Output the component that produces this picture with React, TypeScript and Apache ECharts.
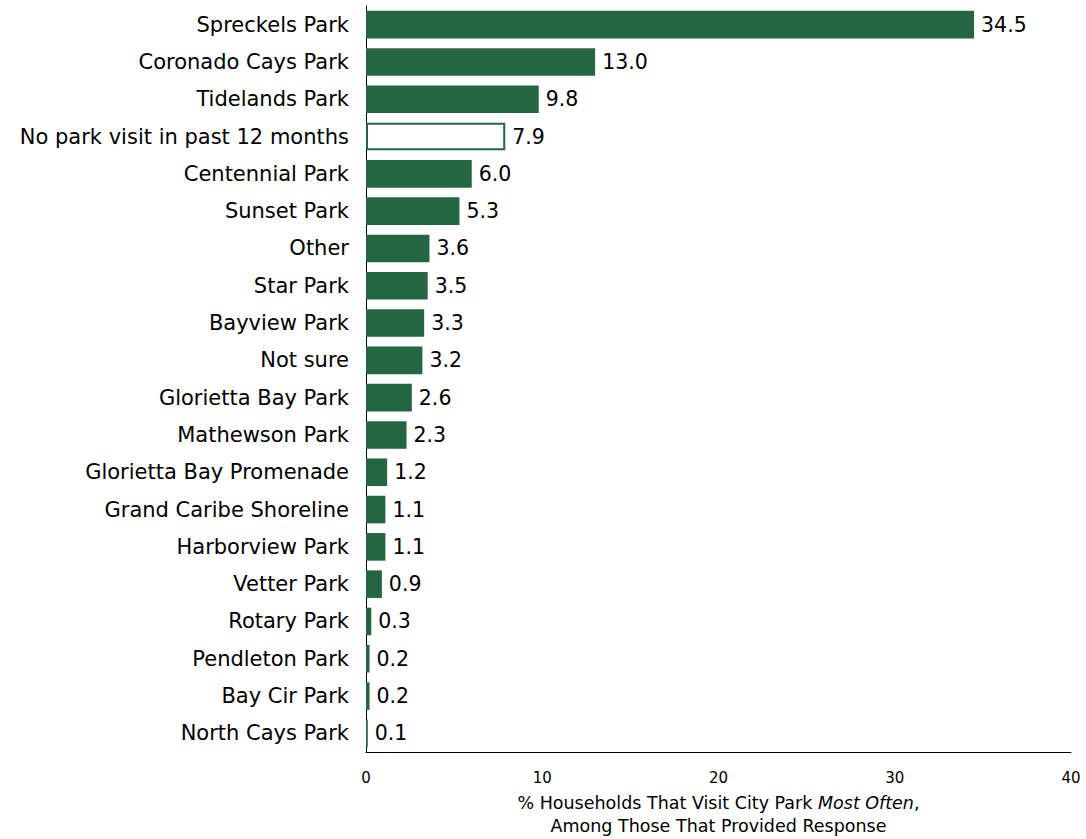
import React, { useEffect, useRef } from "react";
import * as echarts from "echarts";

const categories = [
  "Spreckels Park",
  "Coronado Cays Park",
  "Tidelands Park",
  "No park visit in past 12 months",
  "Centennial Park",
  "Sunset Park",
  "Other",
  "Star Park",
  "Bayview Park",
  "Not sure",
  "Glorietta Bay Park",
  "Mathewson Park",
  "Glorietta Bay Promenade",
  "Grand Caribe Shoreline",
  "Harborview Park",
  "Vetter Park",
  "Rotary Park",
  "Pendleton Park",
  "Bay Cir Park",
  "North Cays Park",
];
const values = [34.5, 13.0, 9.8, 7.9, 6.0, 5.3, 3.6, 3.5, 3.3, 3.2, 2.6, 2.3, 1.2, 1.1, 1.1, 0.9, 0.3, 0.2, 0.2, 0.1];
const outlinedCategory = "No park visit in past 12 months";
const xTicks = [0, 10, 20, 30, 40];

const GREEN = "#236641";
const FONT = "DejaVu Sans";

export default function App() {
  const ref = useRef<HTMLDivElement>(null);
  useEffect(() => {
    if (!ref.current) return;
    const chart = echarts.init(ref.current, null, { renderer: "svg" });
    const data = values.map((v, i) =>
      categories[i] === outlinedCategory
        ? { value: v, itemStyle: { color: "#ffffff", borderColor: GREEN, borderWidth: 2 } }
        : { value: v }
    );
    chart.setOption({
      animation: false,
      grid: { left: 366, top: 6, width: 705, height: 746, containLabel: false, outerBoundsMode: "none" },
      xAxis: {
        type: "value",
        min: xTicks[0],
        max: xTicks[xTicks.length - 1],
        interval: 10,
        splitLine: { show: false },
        axisTick: { show: false },
        axisLine: { show: true, lineStyle: { color: "#000", width: 1 } },
        axisLabel: { color: "#000", fontFamily: FONT, fontSize: 15, margin: 18 },
        name: "{n|% Households That Visit City Park }{i|Most Often}{n|,}\n{n|Among Those That Provided Response}",
        nameLocation: "middle",
        nameGap: 39,
        nameTextStyle: {
          color: "#000",
          fontFamily: FONT,
          fontSize: 17.5,
          lineHeight: 23,
          rich: {
            n: { fontFamily: FONT, fontSize: 17.5, color: "#000", lineHeight: 23 },
            i: { fontFamily: FONT, fontSize: 17.5, color: "#000", fontStyle: "italic", lineHeight: 23 },
          },
        },
      },
      yAxis: {
        type: "category",
        data: categories,
        inverse: true,
        axisTick: { show: false },
        axisLine: { show: true, lineStyle: { color: "#000", width: 1 } },
        axisLabel: { color: "#000", fontFamily: FONT, fontSize: 21, margin: 17 },
      },
      series: [
        {
          type: "bar",
          data,
          barCategoryGap: "26%",
          itemStyle: { color: GREEN },
          label: {
            show: true,
            position: "right",
            distance: 7,
            color: "#000",
            fontFamily: FONT,
            fontSize: 20.5,
            formatter: (p: any) => Number(p.value).toFixed(1),
          },
        },
      ],
    });
    return () => chart.dispose();
  }, []);
  return <div ref={ref} style={{ width: 1086, height: 839, position: "absolute", left: 0, top: 0 }} />;
}
